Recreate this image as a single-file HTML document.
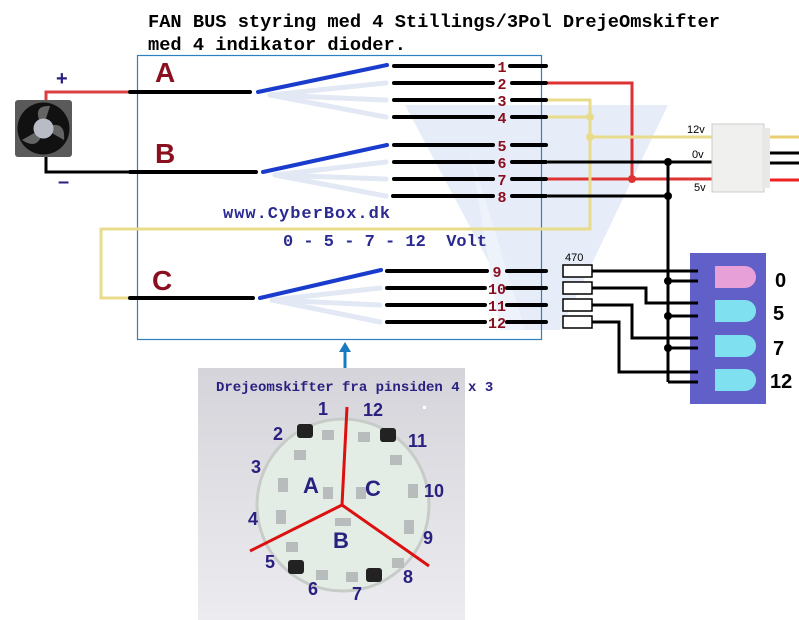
<!DOCTYPE html>
<html><head><meta charset="utf-8"><style>
html,body{margin:0;padding:0;background:#fff;}
svg{display:block;}
.t{font-family:"Liberation Mono",monospace;font-weight:bold;}
.s{font-family:"Liberation Sans",sans-serif;}
</style></head><body>
<svg width="799" height="620" viewBox="0 0 799 620" xmlns="http://www.w3.org/2000/svg">
<defs><linearGradient id="pg" x1="0" y1="0" x2="0" y2="1"><stop offset="0" stop-color="#d4d4da"/><stop offset="1" stop-color="#ececf0"/></linearGradient></defs>
<rect width="799" height="620" fill="#fff"/>
<!-- watermark -->
<g fill="#e6edf8">
<polygon points="405,105 668,105 560,330 525,330"/>
</g>
<polygon points="470,150 525,330 500,330" fill="#eef2fa"/>
<!-- title -->
<text class="t" x="148" y="27" font-size="18.7" fill="#000">FAN BUS styring med 4 Stillings/3Pol DrejeOmskifter</text>
<text class="t" x="148" y="50" font-size="18.7" fill="#000">med 4 indikator dioder.</text>
<!-- box -->
<rect x="137.5" y="55.5" width="404" height="284" fill="none" stroke="#2f80c0" stroke-width="1.2"/>
<!-- faint wiper lines -->
<g stroke="#e2e8f4" stroke-width="5" stroke-linecap="round">
<line x1="270" y1="95" x2="386" y2="83"/><line x1="270" y1="95" x2="386" y2="100"/><line x1="270" y1="95" x2="386" y2="117"/>
<line x1="275" y1="175" x2="386" y2="162"/><line x1="275" y1="175" x2="386" y2="179"/><line x1="275" y1="175" x2="386" y2="196"/>
<line x1="272" y1="300" x2="380" y2="288"/><line x1="272" y1="300" x2="380" y2="305"/><line x1="272" y1="300" x2="380" y2="322"/>
</g>
<!-- colored wires -->
<g fill="none" stroke-width="3">
<polyline points="46,102 46,92 130,92" stroke="#d94040"/>
<polyline points="548,83 632,83 632,179" stroke="#d33"/>
<line x1="548" y1="179" x2="714" y2="179" stroke="#d33"/>
<polyline points="548,100 590,100 590,229 101,229 101,298 130,298" stroke="#e8dc8c"/>
<line x1="548" y1="117" x2="590" y2="117" stroke="#e8dc8c"/>
<line x1="590" y1="137" x2="714" y2="137" stroke="#e8dc8c"/>
</g>
<g fill="none" stroke="#000" stroke-width="3">
<polyline points="46,157 46,172 130,172"/>
<line x1="548" y1="162" x2="714" y2="162"/>
<line x1="548" y1="196" x2="668" y2="196"/>
<line x1="668" y1="162" x2="668" y2="382"/>
</g>
<circle cx="632" cy="179" r="4" fill="#d33"/>
<circle cx="590" cy="117" r="4" fill="#e8dc8c"/>
<circle cx="590" cy="137" r="4" fill="#e8dc8c"/>
<circle cx="668" cy="162" r="4" fill="#000"/>
<circle cx="668" cy="196" r="4" fill="#000"/>
<!-- common lines -->
<g stroke="#000" stroke-width="4" stroke-linecap="round">
<line x1="130" y1="92" x2="250" y2="92"/>
<line x1="130" y1="172" x2="256" y2="172"/>
<line x1="130" y1="298" x2="253" y2="298"/>
</g>
<g stroke="#1a3ccc" stroke-width="4" stroke-linecap="round">
<line x1="258" y1="92" x2="387" y2="65"/>
<line x1="263" y1="172" x2="387" y2="145"/>
<line x1="260" y1="298" x2="381" y2="270"/>
</g>
<!-- contact lines -->
<g stroke="#000" stroke-width="4" stroke-linecap="round">
<line x1="394" y1="66" x2="493" y2="66"/><line x1="510" y1="66" x2="546" y2="66"/>
<line x1="394" y1="83" x2="493" y2="83"/><line x1="512" y1="83" x2="546" y2="83"/>
<line x1="394" y1="100" x2="493" y2="100"/><line x1="512" y1="100" x2="546" y2="100"/>
<line x1="394" y1="117" x2="493" y2="117"/><line x1="512" y1="117" x2="546" y2="117"/>
<line x1="394" y1="145" x2="493" y2="145"/><line x1="512" y1="145" x2="546" y2="145"/>
<line x1="394" y1="162" x2="493" y2="162"/><line x1="512" y1="162" x2="546" y2="162"/>
<line x1="394" y1="179" x2="493" y2="179"/><line x1="512" y1="179" x2="546" y2="179"/>
<line x1="393" y1="196" x2="493" y2="196"/><line x1="512" y1="196" x2="546" y2="196"/>
<line x1="387" y1="271" x2="487" y2="271"/><line x1="507" y1="271" x2="546" y2="271"/>
<line x1="387" y1="288" x2="485" y2="288"/><line x1="507" y1="288" x2="546" y2="288"/>
<line x1="387" y1="305" x2="485" y2="305"/><line x1="507" y1="305" x2="546" y2="305"/>
<line x1="387" y1="322" x2="485" y2="322"/><line x1="507" y1="322" x2="546" y2="322"/>
</g>
<g class="t" fill="#8a1020" font-size="15" text-anchor="middle">
<text x="502" y="72">1</text><text x="502" y="89">2</text><text x="502" y="106">3</text><text x="502" y="123">4</text>
<text x="502" y="151">5</text><text x="502" y="168">6</text><text x="502" y="185">7</text><text x="502" y="202">8</text>
<text x="497" y="277">9</text><text x="497" y="294">10</text><text x="497" y="311">11</text><text x="497" y="328">12</text>
</g>
<g class="s" fill="#8a1020" font-size="28" font-weight="bold">
<text x="155" y="82">A</text><text x="155" y="163">B</text><text x="152" y="290">C</text>
</g>
<text class="t" x="223" y="218" font-size="17" fill="#2a2a90" letter-spacing="1">www.CyberBox.dk</text>
<text class="t" x="283" y="246" font-size="17" fill="#2a2a90" xml:space="preserve">0 - 5 - 7 - 12  Volt</text>
<!-- fan -->
<rect x="15" y="100" width="57" height="57" rx="3" fill="#5a5a5a"/>
<circle cx="43.5" cy="128.5" r="26" fill="#111"/>
<g fill="#888" opacity="0.7"><path d="M43 128 Q30 105 50 106Z"/><path d="M43 128 Q66 118 64 140Z"/><path d="M43 128 Q40 152 22 140Z"/></g>
<circle cx="43.5" cy="128.5" r="10" fill="#b8bcc4"/>
<text class="s" x="56" y="85" font-size="20" font-weight="bold" fill="#2a2080">+</text>
<text class="s" x="58" y="188" font-size="20" font-weight="bold" fill="#2a2080">–</text>
<!-- connector -->
<rect x="712" y="124" width="52" height="68" fill="#f0f0ee" stroke="#ccc"/>
<rect x="762" y="128" width="8" height="60" fill="#e8e8e6"/>
<line x1="770" y1="137" x2="799" y2="137" stroke="#e8d070" stroke-width="3"/>
<line x1="770" y1="153" x2="799" y2="153" stroke="#000" stroke-width="3"/>
<line x1="770" y1="163" x2="799" y2="163" stroke="#000" stroke-width="3"/>
<line x1="770" y1="180" x2="799" y2="180" stroke="#e22" stroke-width="3"/>
<g class="s" font-size="11" fill="#000"><text x="687" y="133">12v</text><text x="692" y="158">0v</text><text x="694" y="191">5v</text></g>
<!-- resistors -->
<text class="s" x="565" y="261" font-size="11" fill="#000">470</text>
<g fill="#fff" stroke="#000" stroke-width="1.5">
<rect x="563" y="265" width="29" height="12"/><rect x="563" y="282" width="29" height="12"/>
<rect x="563" y="299" width="29" height="12"/><rect x="563" y="316" width="29" height="12"/>
</g>
<!-- LED panel -->
<rect x="690" y="253" width="76" height="151" fill="#6060c8"/>
<g fill="none" stroke="#000" stroke-width="3">
<line x1="592" y1="271" x2="698" y2="271"/>
<polyline points="592,288 646,288 646,303 698,303"/>
<polyline points="592,305 632,305 632,338 698,338"/>
<polyline points="592,322 619,322 619,372 698,372"/>
<line x1="668" y1="281" x2="698" y2="281"/>
<line x1="668" y1="316" x2="698" y2="316"/>
<line x1="668" y1="348" x2="698" y2="348"/>
<line x1="668" y1="382" x2="698" y2="382"/>
</g>
<circle cx="668" cy="281" r="4" fill="#000"/><circle cx="668" cy="316" r="4" fill="#000"/><circle cx="668" cy="348" r="4" fill="#000"/>
<g>
<path d="M715 266 h30 a10 10 0 0 1 0 22 h-30z" fill="#e8a0d8"/>
<path d="M715 300 h30 a10 10 0 0 1 0 22 h-30z" fill="#7fe0f0"/>
<path d="M715 335 h30 a10 10 0 0 1 0 22 h-30z" fill="#7fe0f0"/>
<path d="M715 369 h30 a10 10 0 0 1 0 22 h-30z" fill="#7fe0f0"/>
</g>
<g class="s" font-size="20" font-weight="bold" fill="#000">
<text x="775" y="287">0</text><text x="773" y="320">5</text><text x="773" y="355">7</text><text x="770" y="388">12</text>
</g>
<!-- arrow -->
<line x1="345" y1="370" x2="345" y2="350" stroke="#1a7ac0" stroke-width="3"/>
<polygon points="339,352 345,342 351,352" fill="#1a7ac0"/>
<!-- photo -->
<rect x="198" y="368" width="267" height="252" fill="url(#pg)"/>
<circle cx="343" cy="505" r="86" fill="#e4ece6"/>
<circle cx="343" cy="505" r="86" fill="none" stroke="#c8ccc8" stroke-width="3"/>
<g fill="#222"><rect x="297" y="424" width="16" height="14" rx="3"/><rect x="380" y="428" width="16" height="14" rx="3"/><rect x="288" y="560" width="16" height="14" rx="3"/><rect x="366" y="568" width="16" height="14" rx="3"/></g>
<g fill="#b8bcbc"><rect x="322" y="430" width="12" height="10"/><rect x="358" y="432" width="12" height="10"/><rect x="294" y="450" width="12" height="10"/><rect x="390" y="455" width="12" height="10"/><rect x="278" y="478" width="10" height="14"/><rect x="408" y="484" width="10" height="14"/><rect x="276" y="510" width="10" height="14"/><rect x="404" y="520" width="10" height="14"/><rect x="286" y="542" width="12" height="10"/><rect x="316" y="570" width="12" height="10"/><rect x="346" y="572" width="12" height="10"/><rect x="392" y="558" width="12" height="10"/><rect x="323" y="487" width="10" height="12"/><rect x="356" y="487" width="10" height="12"/><rect x="335" y="518" width="16" height="8"/></g>
<g stroke="#dd1010" stroke-width="3" fill="none">
<line x1="347" y1="407" x2="342" y2="505"/>
<line x1="342" y1="505" x2="250" y2="551"/>
<line x1="342" y1="505" x2="429" y2="566"/>
</g>
<text class="t" x="216" y="391" font-size="14" fill="#2a2080">Drejeomskifter fra pinsiden 4 x 3</text>
<g class="s" font-size="18" font-weight="bold" fill="#2a2080">
<text x="318" y="415">1</text><text x="363" y="416">12</text><text x="273" y="440">2</text><text x="408" y="447">11</text>
<text x="251" y="473">3</text><text x="424" y="497">10</text><text x="248" y="525">4</text><text x="423" y="544">9</text>
<text x="265" y="568">5</text><text x="403" y="583">8</text><text x="308" y="595">6</text><text x="352" y="600">7</text>
<text x="303" y="493" font-size="22">A</text><text x="365" y="496" font-size="22">C</text><text x="333" y="548" font-size="22">B</text>
</g>
<rect x="423" y="406" width="3" height="3" fill="#fff"/>
</svg>
</body></html>
